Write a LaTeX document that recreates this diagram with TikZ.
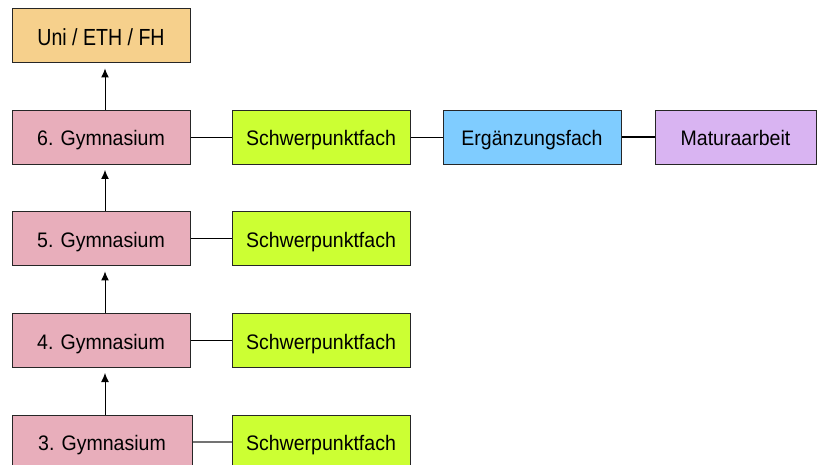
\documentclass[tikz,border=0pt]{standalone}
\usepackage{fontspec}
\setmainfont{Liberation Sans}[FakeStretch=0.93]
\newfontfamily\unifont{Liberation Sans}[FakeStretch=0.84]
\usetikzlibrary{arrows.meta}
\definecolor{unicol}{HTML}{F6D08C}
\definecolor{gymcol}{HTML}{E8AEBB}
\definecolor{spfcol}{HTML}{CCFF33}
\definecolor{efcol}{HTML}{7FCCFF}
\definecolor{macol}{HTML}{D9B4F2}
\begin{document}
\begin{tikzpicture}[x=1pt,y=-1pt,
  box/.style={draw=black!85, line width=1pt, minimum width=178pt, minimum height=54pt,
    inner sep=0pt, text height=17pt, text depth=0pt, font=\fontsize{21}{25}\selectfont},
  gym/.style={box, fill=gymcol},
  spf/.style={box, fill=spfcol},
  link/.style={line width=1pt, black},
  up/.style={line width=1pt, -{Latex[length=9pt,width=8pt]}, shorten >=5pt}
]
\useasboundingbox (0,0) rectangle (817,465);
\clip (0,0) rectangle (817,465);
\coordinate (ax) at (105,0);
\node[box, fill=unicol, text height=18.6pt, font=\unifont\fontsize{23.3}{27}\selectfont] (uni) at (101,36) {Uni / ETH / FH};
\node[gym] (g6) at (101,137.5) {6. Gymnasium};
\node[gym] (g5) at (101,239) {5. Gymnasium};
\node[gym] (g4) at (101,340.5) {4. Gymnasium};
\node[gym, minimum width=180pt] (g3) at (102,442) {3. Gymnasium};
\node[spf] (s6) at (321,137.5) {Schwerpunktfach};
\node[spf] (s5) at (321,239) {Schwerpunktfach};
\node[spf] (s4) at (321,340.5) {Schwerpunktfach};
\node[spf] (s3) at (321,442) {Schwerpunktfach};
\node[box, fill=efcol] (ef) at (532,137.5) {Ergänzungsfach};
\node[box, fill=macol, minimum width=161pt] (ma) at (735.5,137.5) {Maturaarbeit};
\draw[link] (g6) -- (s6);
\draw[link] (s6) -- (ef);
\draw[link, line width=2pt] (ef) -- (ma);
\draw[link] (g5) -- (s5);
\draw[link] (g4) -- (s4);
\draw[link, black!55, line width=1.3pt] (g3) -- (s3);
\draw[up] (g3.north -| ax) -- (g4.south -| ax);
\draw[up] (g4.north -| ax) -- (g5.south -| ax);
\draw[up] (g5.north -| ax) -- (g6.south -| ax);
\draw[up] (g6.north -| ax) -- (uni.south -| ax);
\end{tikzpicture}
\end{document}
